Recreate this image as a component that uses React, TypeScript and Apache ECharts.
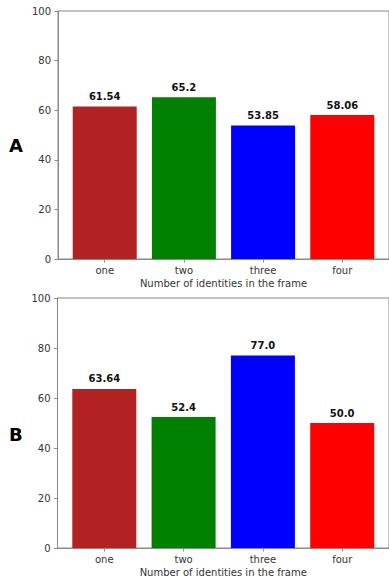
import React, { useEffect, useRef } from "react";
import * as echarts from "echarts";

const categories = ["one", "two", "three", "four"];
const valuesA = [61.54, 65.2, 53.85, 58.06];
const valuesB = [63.64, 52.4, 77.0, 50.0];
const barColors = ["#b22222", "#008000", "#0000ff", "#ff0000"];
const yTicks = { min: 0, max: 100, interval: 20 };
const panelLetters = ["A", "B"];
const xName = "Number of identities in the frame";

const FONT = "DejaVu Sans";
const SPINE = "#8a8a8a";
const TEXT = "#333";

function fmt(v: number): string {
  return Number.isInteger(v) ? v.toFixed(1) : String(v);
}

export default function App() {
  const ref = useRef<HTMLDivElement>(null);
  useEffect(() => {
    if (!ref.current) return;
    const chart = echarts.init(ref.current, undefined, { renderer: "svg" });
    const grids = [
      { left: 58, top: 11, height: 248, width: 334.4 },
      { left: 57.5, top: 298, height: 250, width: 334.4 },
    ];
    const catIdx = categories.map((_, i) => i);
    const xAxes = grids.map((_, g) => ({
      type: "value",
      gridIndex: g,
      min: -0.59,
      max: 3.59,
      splitLine: { show: false },
      axisLine: { show: true, onZero: false, lineStyle: { color: SPINE, width: 1 } },
      axisTick: { show: true, customValues: catIdx, length: 3.5, lineStyle: { color: SPINE } },
      axisLabel: {
        customValues: catIdx,
        formatter: (v: number) => categories[Math.round(v)] ?? "",
        color: TEXT,
        fontFamily: FONT,
        fontSize: 10,
        margin: 6,
      },
      name: xName,
      nameLocation: "middle",
      nameGap: 19,
      nameTextStyle: { color: TEXT, fontFamily: FONT, fontSize: 10 },
    }));
    const yAxes = grids.map((_, g) => ({
      type: "value",
      gridIndex: g,
      min: yTicks.min,
      max: yTicks.max,
      interval: yTicks.interval,
      splitLine: { show: false },
      axisLine: { show: true, onZero: false, lineStyle: { color: SPINE, width: 1 } },
      axisTick: { show: true, length: 3.5, lineStyle: { color: SPINE } },
      axisLabel: { color: TEXT, fontFamily: FONT, fontSize: 10, margin: 7 },
    }));
    const mkSeries = (vals: number[], g: number) => ({
      type: "bar",
      xAxisIndex: g,
      yAxisIndex: g,
      barWidth: 64,
      data: vals.map((v, i) => ({ value: [i, v], itemStyle: { color: barColors[i] } })),
      label: {
        show: true,
        position: "top",
        distance: 5,
        formatter: (p: any) => fmt(p.value[1]),
        fontFamily: FONT,
        fontWeight: "bold",
        fontSize: 10,
        color: "#111",
      },
    });
    chart.setOption({
      animation: false,
      backgroundColor: "#fff",
      grid: grids.map((g) => ({ ...g, show: true, borderColor: SPINE, borderWidth: 1, containLabel: false })),
      xAxis: xAxes,
      yAxis: yAxes,
      series: [mkSeries(valuesA, 0), mkSeries(valuesB, 1)],
      graphic: [
        {
          type: "text",
          left: 9,
          top: 136,
          style: { text: panelLetters[0], fontFamily: FONT, fontWeight: "bold", fontSize: 18, fill: "#000" },
        },
        {
          type: "text",
          left: 9,
          top: 425,
          style: { text: panelLetters[1], fontFamily: FONT, fontWeight: "bold", fontSize: 18, fill: "#000" },
        },
      ],
    });
    return () => chart.dispose();
  }, []);
  return (
    <div
      ref={ref}
      style={{ position: "fixed", left: 0, top: 0, width: 389, height: 580, background: "#fff" }}
    />
  );
}
